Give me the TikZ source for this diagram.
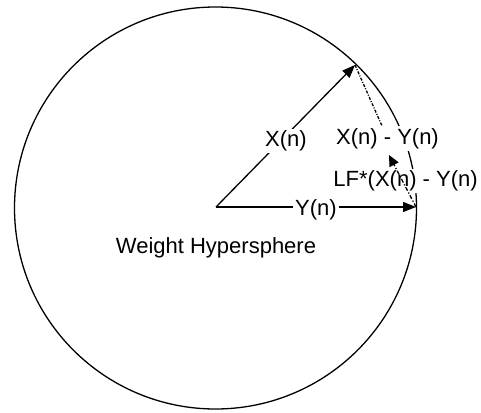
\documentclass[tikz,border=0pt]{standalone}
\usepackage{fontspec}
\setmainfont{Liberation Sans}
\usetikzlibrary{arrows.meta,calc}
\begin{document}
\begin{tikzpicture}[x=1pt,y=-1pt,
  line width=1.3pt,
  lbl/.style={font=\fontsize{22}{24}\selectfont, inner sep=2pt, anchor=base},
  wlbl/.style={lbl, fill=white},
  vec/.style={-{Triangle[length=13pt,width=10pt]}},
  dd/.style={line width=1.3pt, dash pattern=on 3pt off 1.5pt on 1pt off 1.5pt},
  ddarrow/.style={line width=1.3pt, dash pattern=on 4pt off 2pt on 1.2pt off 2pt, -{Triangle[length=11pt,width=10pt]}}]
\useasboundingbox (0,0) rectangle (481,412);
\node[draw, circle, minimum size=402pt, inner sep=0pt, outer sep=0pt] (hs) at (215.5,208) {};
\coordinate (o) at (216,207);
\coordinate (xt) at (355,65);
\coordinate (yt) at (416,207);
\coordinate (lf) at (389,155);
% labels that cover lines
\node[wlbl] (lxy) at (387.5,144) {X(n) - Y(n)};
\draw[dd] (xt) -- (lxy);
\node[wlbl] (llf) at (405.6,186.5) {LF*(X(n) - Y(n)};
\draw[vec] (o) -- (xt);
\draw[vec] (o) -- (yt);
\node[wlbl] (lx) at (286,146.5) {X(n)};
\node[wlbl] (ly) at (316,215) {Y(n)};
\node[lbl] (lw) at (216,253) {Weight Hypersphere};
\draw[ddarrow] (yt) -- (lf);
\end{tikzpicture}
\end{document}
